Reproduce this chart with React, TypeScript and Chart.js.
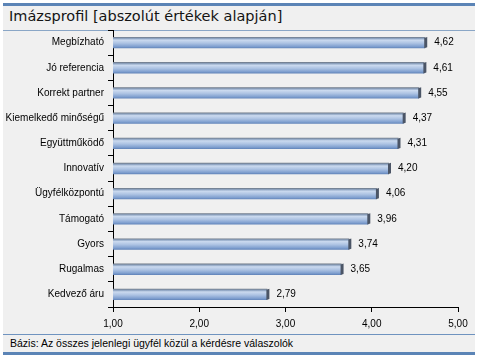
import React, { useEffect, useRef } from "react";
import { Chart, registerables } from "chart.js";

Chart.register(...registerables);

const categories = [
  "Megbízható",
  "Jó referencia",
  "Korrekt partner",
  "Kiemelkedő minőségű",
  "Együttműködő",
  "Innovatív",
  "Ügyfélközpontú",
  "Támogató",
  "Gyors",
  "Rugalmas",
  "Kedvező áru",
];
const values = [4.62, 4.61, 4.55, 4.37, 4.31, 4.2, 4.06, 3.96, 3.74, 3.65, 2.79];
const xTicks = [1, 2, 3, 4, 5];
const titleText = "Imázsprofil [abszolút értékek alapján]";
const footerText = "Bázis: Az összes jelenlegi ügyfél közül a kérdésre válaszolók";

const LABEL_FONT = "'Liberation Sans', Arial, sans-serif";
const BAR_PCT = 0.45;

const fmt = (v: number) => v.toFixed(2).replace(".", ",");

const barDeco = {
  id: "barDeco",
  afterDatasetsDraw(chart: any) {
    const ctx = chart.ctx;
    const meta = chart.getDatasetMeta(0);
    ctx.save();
    meta.data.forEach((el: any, i: number) => {
      const h = el.height;
      const top = el.y - h / 2;
      // dark end cap
      ctx.fillStyle = "#4b5566";
      ctx.beginPath();
      ctx.moveTo(el.x - 1, top + 1);
      ctx.lineTo(el.x + 2, top);
      ctx.lineTo(el.x + 2, top + h - 1);
      ctx.lineTo(el.x - 1, top + h);
      ctx.closePath();
      ctx.fill();
      // value label
      ctx.fillStyle = "#000";
      ctx.font = "10px " + LABEL_FONT;
      ctx.textAlign = "left";
      ctx.textBaseline = "middle";
      ctx.fillText(fmt(values[i]), el.x + 9, el.y);
    });
    ctx.restore();
  },
};

export default function App() {
  const ref = useRef<HTMLCanvasElement>(null);

  useEffect(() => {
    document.body.style.margin = "0";
    const canvas = ref.current!;
    const chart = new Chart(canvas, {
      type: "bar",
      data: {
        labels: categories,
        datasets: [
          {
            data: values,
            barPercentage: BAR_PCT,
            categoryPercentage: 1,
            borderWidth: 0,
            backgroundColor: (c: any) => {
              const ch = c.chart;
              const ys = ch.scales && ch.scales.y;
              if (!ys || c.dataIndex === undefined) return "#a6bde0";
              const yc = ys.getPixelForValue(c.dataIndex);
              const band = Math.abs(ys.getPixelForValue(1) - ys.getPixelForValue(0));
              const h = band * BAR_PCT;
              if (!isFinite(yc) || !isFinite(h) || h <= 0) return "#a6bde0";
              const g = ch.ctx.createLinearGradient(0, yc - h / 2, 0, yc + h / 2);
              g.addColorStop(0, "#6c7684");
              g.addColorStop(0.14, "#8ea4c2");
              g.addColorStop(0.28, "#cbdaef");
              g.addColorStop(0.55, "#adc3e3");
              g.addColorStop(0.85, "#7f9fcf");
              g.addColorStop(1, "#5f82b8");
              return g;
            },
          },
        ],
      },
      options: {
        indexAxis: "y",
        animation: false,
        responsive: false,
        maintainAspectRatio: false,
        layout: { padding: { top: 30, left: 0, right: 20, bottom: 26 } },
        plugins: {
          legend: { display: false },
          tooltip: { enabled: false },
        },
        scales: {
          x: {
            type: "linear",
            min: 1,
            max: 5,
            afterBuildTicks: (s: any) => {
              s.ticks = xTicks.map((v) => ({ value: v }));
            },
            afterFit: (s: any) => {
              s.height = 25;
            },
            ticks: {
              color: "#000",
              padding: 6,
              font: { family: LABEL_FONT, size: 10 },
              callback: (v: any) => fmt(Number(v)),
            },
            grid: {
              drawOnChartArea: false,
              drawTicks: true,
              tickLength: 5,
              color: "#000",
            },
            border: { color: "#000", width: 1 },
          },
          y: {
            type: "category",
            afterFit: (s: any) => {
              s.width = 113;
            },
            ticks: {
              color: "#000",
              padding: 4,
              font: { family: LABEL_FONT, size: 10 },
            },
            grid: {
              drawOnChartArea: false,
              drawTicks: true,
              tickLength: 5,
              color: "#000",
              offset: true,
            },
            border: { color: "#000", width: 1 },
          },
        },
      },
      plugins: [barDeco],
    } as any);
    return () => chart.destroy();
  }, []);

  const abs = (s: React.CSSProperties): React.CSSProperties => ({ position: "absolute", ...s });

  return (
    <div style={{ position: "relative", width: 478, height: 358, background: "#fff", overflow: "hidden" }}>
      <div style={abs({ left: 3, top: 3, width: 472, height: 352, background: "#f0f0f0" })} />
      <div style={abs({ left: 3, top: 3, width: 472, height: 3, background: "#5b84b6" })} />
      <div
        style={abs({
          left: 9,
          top: 7,
          fontFamily: "'DejaVu Sans', sans-serif",
          fontSize: 14.5,
          color: "#141414",
          whiteSpace: "nowrap",
          lineHeight: "18px",
        })}
      >
        {titleText}
      </div>
      <div style={abs({ left: 3, top: 30, width: 472, height: 1, background: "#8aa6c6" })} />
      <div style={abs({ left: 3, top: 334, width: 472, height: 1, background: "#6f93bf" })} />
      <div
        style={abs({
          left: 10,
          top: 337,
          fontFamily: "'Liberation Sans', Arial, sans-serif",
          fontSize: 10.5,
          color: "#000",
          whiteSpace: "nowrap",
          lineHeight: "13px",
        })}
      >
        {footerText}
      </div>
      <div style={abs({ left: 3, top: 352, width: 472, height: 3, background: "#5b84b6" })} />
      <canvas ref={ref} width={478} height={358} style={abs({ left: 0, top: 0, width: 478, height: 358 })} />
    </div>
  );
}
